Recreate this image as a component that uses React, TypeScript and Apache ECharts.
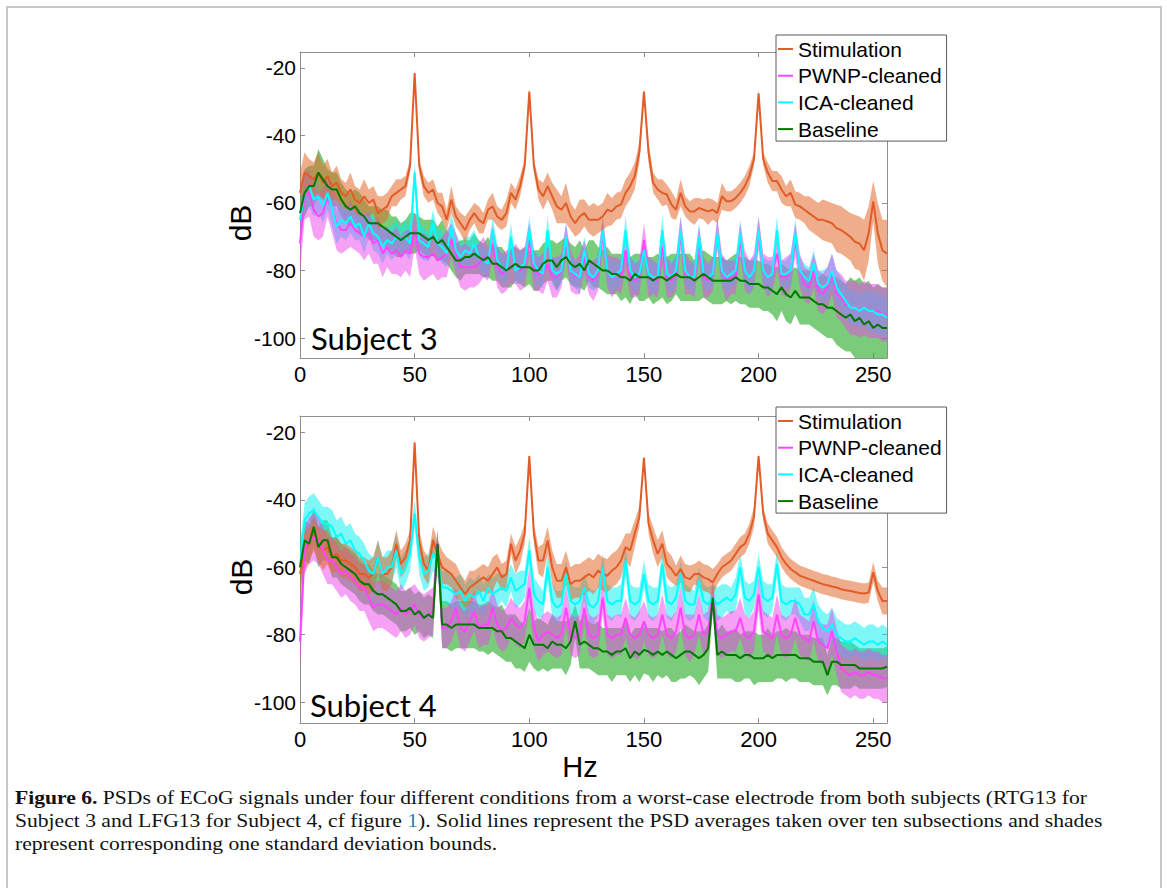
import React, { useEffect, useRef } from 'react';
import * as echarts from 'echarts';

// frequency grid (Hz), 2 Hz bins from 0 to 256
const FREQ_HZ: number[] = Array.from({ length: 129 }, (_, i) => i * 2);
const X_TICKS = [0, 50, 100, 150, 200, 250];
const Y_TICKS = [-100, -80, -60, -40, -20];
const NAMES = ['Stimulation', 'PWNP-cleaned', 'ICA-cleaned', 'Baseline'];

// ---------- Subject 3 ----------
const S3_STIM = [
  -57, -51, -52, -53, -51, -54, -52, -55, -54, -57,
  -58, -56, -59, -60, -58, -60, -59, -63, -62, -61,
  -58, -57, -56, -55, -49, -21.5, -49, -55, -57, -56,
  -60, -61, -65, -59, -64, -66, -68, -65, -63, -65,
  -66, -62, -61, -64, -65, -63, -57, -59, -55, -49,
  -27, -49, -56, -58, -55, -58, -61, -62, -60, -64,
  -66, -64, -63, -65, -65, -65, -64, -62, -62.5, -61,
  -60.5, -57, -55, -52, -45, -27, -45, -54, -56, -57,
  -57.5, -60.5, -62, -57, -61, -62.5, -62.5, -61.5, -62, -62.5,
  -62, -63, -58, -59.5, -59.5, -58.5, -57, -55, -52, -47,
  -27.5, -47, -51, -53.5, -53.5, -56, -58, -57, -60.5, -61,
  -62, -63, -64, -65, -65, -65.5, -66, -67.5, -68, -69,
  -70, -71.5, -72, -74, -69, -59.5, -69, -74, -75,
];
const S3_STIM_SD = [
  6, 6, 5, 5, 6, 5, 5, 4, 5, 4,
  4, 5, 4, 4, 5, 4, 4, 5, 4, 4,
  3, 4, 3, 3, 2, 1, 2, 3, 3, 3,
  3, 4, 3, 4, 3, 3, 4, 3, 3, 4,
  3, 3, 4, 3, 3, 4, 3, 3, 3, 2,
  1, 2, 3, 4, 4, 4, 5, 4, 6, 4,
  4, 5, 4, 4, 5, 4, 4, 5, 4, 4,
  4, 4, 4, 4, 3, 1, 3, 3, 3, 4,
  3, 4, 3, 4, 3, 3, 4, 3, 3, 4,
  3, 3, 4, 3, 3, 3, 3, 3, 3, 2,
  1, 2, 3, 3, 3, 4, 3, 4, 4, 4,
  4, 5, 5, 5, 6, 6, 6, 7, 7, 7,
  7, 8, 8, 9, 8, 6, 9, 9, 10,
];
const S3_PWNP = [
  -72, -58, -57, -62, -64, -63, -58, -62, -66, -68,
  -68, -66, -68, -69, -70, -69, -72, -71, -75, -73,
  -75, -74, -76, -74, -75, -68, -75, -76, -76, -75,
  -77, -76, -75, -71, -75, -79, -79, -79, -79, -78,
  -76, -78, -72, -79, -81, -80, -79, -78, -80, -79,
  -71, -80, -81, -81, -78, -82, -82, -80, -71, -80,
  -82, -81, -76, -82, -83, -81, -69, -80, -82, -81,
  -82, -74, -82, -83, -82, -71, -82, -82, -83, -73,
  -82, -83, -81, -69, -81, -82, -83, -72, -82, -83,
  -81, -69, -80, -83, -82, -82, -71, -80, -82, -80,
  -69, -80, -82, -81, -75, -82, -82, -80, -71, -80,
  -84, -85, -80, -86, -87, -85, -81, -87, -88, -90,
  -91, -91, -92, -91, -92, -92, -92, -93, -93,
];
const S3_PWNP_SD = [
  9, 7, 7, 8, 7, 7, 6, 7, 8, 7,
  6, 7, 6, 6, 7, 6, 6, 7, 7, 6,
  6, 7, 6, 6, 7, 5, 6, 7, 6, 6,
  6, 6, 7, 5, 6, 6, 7, 6, 6, 6,
  6, 5, 5, 6, 6, 6, 5, 6, 6, 6,
  5, 6, 5, 6, 5, 6, 6, 5, 5, 6,
  5, 6, 5, 5, 6, 5, 5, 5, 6, 5,
  5, 5, 6, 5, 5, 5, 6, 5, 5, 5,
  6, 5, 5, 5, 6, 5, 5, 5, 6, 5,
  5, 5, 5, 6, 5, 5, 5, 6, 5, 5,
  5, 5, 6, 5, 5, 5, 6, 5, 5, 5,
  5, 5, 5, 6, 6, 6, 6, 7, 7, 7,
  8, 8, 8, 8, 8, 8, 8, 8, 8,
];
const S3_ICA = [
  -65, -57, -55, -59, -58, -61, -57, -62, -67, -65,
  -66, -64, -67, -66, -70, -66, -69, -70, -73, -71,
  -72, -70, -71, -70, -72, -51, -71, -72, -73, -66,
  -72, -73, -75, -67, -74, -76, -74, -75, -72, -76,
  -77, -78, -68, -77, -79, -80, -70, -80, -79, -78,
  -68, -78, -80, -81, -68, -80, -81, -80, -70, -80,
  -81, -82, -74, -81, -82, -80, -68, -80, -82, -81,
  -80, -68, -80, -82, -81, -74, -81, -82, -82, -68,
  -81, -82, -80, -68, -80, -82, -82, -70, -81, -82,
  -81, -69, -80, -82, -81, -80, -69, -80, -82, -80,
  -68, -80, -82, -81, -68, -81, -81, -80, -69, -80,
  -82, -83, -78, -84, -85, -84, -80, -85, -87, -89,
  -91, -91, -92, -91, -92, -92, -93, -93, -94,
];
const S3_ICA_SD = [
  7, 6, 6, 5, 5, 5, 5, 5, 5, 5,
  5, 5, 4, 5, 5, 4, 5, 5, 5, 4,
  5, 5, 4, 5, 5, 3, 5, 5, 4, 4,
  4, 5, 4, 4, 5, 4, 4, 5, 4, 4,
  4, 4, 4, 5, 4, 4, 4, 4, 5, 4,
  4, 4, 5, 4, 4, 4, 5, 4, 4, 4,
  4, 5, 4, 4, 4, 5, 4, 4, 5, 4,
  4, 4, 4, 5, 4, 4, 4, 5, 4, 4,
  4, 5, 4, 4, 4, 4, 5, 4, 4, 4,
  4, 4, 4, 5, 4, 4, 4, 4, 5, 4,
  4, 4, 5, 4, 4, 4, 4, 5, 4, 4,
  4, 4, 4, 4, 5, 5, 5, 5, 5, 5,
  5, 5, 5, 5, 6, 6, 6, 6, 6,
];
const S3_BASE = [
  -63, -57, -55, -55, -51, -53, -55, -56, -56, -59,
  -61, -62, -61, -63, -64, -66, -66, -66, -67, -68,
  -69, -70, -71, -70, -69, -69, -69, -70, -71, -70,
  -72, -71, -73, -75, -77, -77, -76, -76, -75, -76,
  -77, -76, -78, -78, -79, -80, -79, -78, -79, -79,
  -79, -80, -80, -78, -77, -77, -79, -77, -76, -78,
  -79, -78, -80, -77, -78, -79, -80, -80, -81, -81,
  -82, -82, -83, -81, -82, -82, -82, -83, -82, -82,
  -83, -82, -81, -82, -82, -82, -83, -82, -81, -82,
  -83, -83, -83, -83, -83, -82, -83, -83, -84, -84,
  -84, -85, -85, -86, -87, -85, -87, -88, -86, -88,
  -88, -88, -89, -90, -90, -91, -91, -92, -93, -94,
  -93, -95, -94, -96, -95, -97, -96, -97, -97,
];
const S3_BASE_SD = [
  7, 7, 6, 6, 7, 6, 5, 5, 5, 5,
  5, 5, 5, 6, 5, 5, 5, 5, 5, 6,
  5, 6, 5, 5, 6, 6, 5, 5, 6, 5,
  5, 6, 5, 5, 5, 6, 5, 5, 6, 5,
  5, 6, 5, 5, 6, 5, 6, 5, 5, 6,
  5, 6, 6, 6, 6, 6, 7, 6, 6, 6,
  6, 7, 6, 6, 7, 6, 6, 7, 6, 6,
  7, 6, 7, 6, 7, 7, 6, 7, 7, 6,
  7, 7, 6, 7, 7, 7, 6, 7, 7, 7,
  7, 7, 7, 6, 7, 7, 7, 7, 7, 7,
  7, 7, 7, 7, 8, 7, 8, 8, 7, 8,
  8, 8, 8, 8, 9, 9, 9, 10, 10, 10,
  11, 12, 12, 12, 12, 12, 12, 12, 12,
];

// ---------- Subject 4 ----------
const S4_STIM = [
  -62, -55, -53, -50, -53, -55, -54, -57, -56, -58,
  -58, -59, -60, -62, -62, -63, -62, -57, -62, -62,
  -60, -53, -59, -57, -52, -23, -52, -59, -61, -52,
  -56, -60, -61, -62, -64, -66, -68, -66, -65, -64,
  -63, -64, -62, -60, -63, -62, -53, -58, -55, -50,
  -27, -50, -58, -58, -52, -60, -64, -64, -60, -65,
  -64, -64, -63, -62, -63, -61, -62, -62.5, -61, -60,
  -58, -54, -55, -50, -45, -27.5, -47, -52, -56, -53,
  -59, -60.5, -62.5, -60.5, -63, -63.5, -62, -62, -63, -63.5,
  -64.5, -62, -60, -59, -58, -56, -54, -53, -50, -45,
  -27, -44, -50, -52, -54, -57, -59, -60.5, -61.5, -62.5,
  -63, -63.5, -64, -64.5, -65, -65.3, -65.7, -66, -66.5, -66.8,
  -67, -67.3, -67.6, -67.8, -67.5, -61.5, -67, -70, -70,
];
const S4_STIM_SD = [
  6, 6, 5, 5, 5, 6, 5, 5, 5, 5,
  5, 5, 5, 5, 5, 5, 5, 5, 5, 5,
  5, 4, 4, 4, 3, 1, 3, 4, 4, 4,
  4, 5, 4, 4, 5, 4, 4, 5, 4, 4,
  4, 4, 5, 4, 4, 4, 3, 4, 4, 3,
  1, 3, 4, 5, 4, 5, 5, 5, 5, 5,
  5, 5, 5, 5, 5, 5, 5, 5, 5, 5,
  5, 4, 5, 4, 3, 1, 3, 4, 4, 4,
  4, 4, 3, 4, 4, 4, 3, 4, 4, 4,
  4, 3, 3, 3, 3, 3, 3, 3, 3, 3,
  1, 2, 3, 3, 3, 3, 3, 3, 3, 3,
  3, 3, 3, 3, 3, 3, 3, 3, 3, 3,
  3, 3, 3, 3, 3, 3, 3, 4, 4,
];
const S4_PWNP = [
  -82, -55, -52, -51, -52, -55, -58, -58, -60, -62,
  -61, -63, -64, -66, -66, -69, -72, -71, -71, -72,
  -73, -74, -72, -74, -73, -71, -74, -75, -74, -73,
  -53, -78, -78, -76, -72, -78, -79, -76, -73, -78,
  -77, -77, -72, -77, -79, -78, -75, -77, -78, -76,
  -66, -78, -82, -80, -79, -80, -81, -80, -72, -80,
  -81, -80, -72, -80, -81, -80, -69, -80, -81, -80,
  -80, -75, -80, -81, -80, -76, -80, -81, -80, -74,
  -80, -81, -79, -72, -80, -81, -80, -74, -80, -79,
  -69, -80, -81, -80, -79, -79, -75, -80, -81, -79,
  -68, -79, -80, -81, -74, -80, -81, -80, -75, -80,
  -81, -82, -76, -82, -83, -84, -79, -85, -90, -91,
  -92, -91, -92, -92, -91, -92, -92, -93, -93,
];
const S4_PWNP_SD = [
  9, 7, 7, 7, 7, 7, 7, 7, 7, 7,
  7, 7, 7, 7, 7, 7, 7, 7, 7, 7,
  7, 7, 7, 7, 7, 6, 7, 7, 7, 7,
  4, 6, 6, 6, 6, 6, 6, 6, 6, 6,
  6, 6, 6, 6, 6, 6, 6, 6, 6, 6,
  6, 6, 6, 6, 6, 6, 6, 6, 6, 6,
  6, 6, 5, 6, 6, 6, 5, 6, 6, 6,
  6, 6, 6, 6, 7, 6, 6, 6, 6, 6,
  6, 6, 6, 6, 6, 7, 6, 6, 6, 6,
  5, 6, 6, 6, 6, 6, 6, 6, 6, 6,
  5, 6, 6, 6, 6, 6, 6, 6, 6, 6,
  6, 6, 6, 6, 6, 7, 7, 7, 7, 7,
  7, 7, 7, 7, 7, 7, 7, 7, 7,
];
const S4_ICA = [
  -60, -46, -44, -43, -45, -47, -47, -48, -51, -50,
  -53, -52, -55, -56, -58, -61, -62, -57, -62, -60,
  -60, -55, -62, -60, -56, -44, -57, -62, -61, -56,
  -58, -66, -66, -67, -68, -67, -70, -68, -69, -67,
  -70, -66, -68, -67, -66, -67, -63, -67, -66, -65,
  -55, -68, -70, -71, -60, -70, -72, -71, -62, -70,
  -71, -70, -66, -71, -72, -70, -60, -70, -71, -70,
  -70, -58, -70, -71, -70, -62, -70, -71, -70, -59,
  -70, -71, -69, -62, -70, -71, -71, -64, -70, -71,
  -69, -71, -70, -69, -70, -68, -60, -69, -70, -68,
  -60, -69, -70, -69, -59, -70, -71, -70, -70, -71,
  -74, -74, -71, -76, -78, -79, -77, -80, -81, -82,
  -82, -81, -82, -83, -82, -82, -83, -82, -83,
];
const S4_ICA_SD = [
  7, 5, 5, 5, 5, 5, 5, 5, 5, 5,
  5, 5, 5, 5, 5, 5, 5, 5, 5, 5,
  5, 5, 5, 5, 5, 4, 5, 5, 5, 5,
  5, 5, 5, 5, 5, 5, 5, 5, 5, 5,
  5, 4, 5, 5, 4, 5, 4, 5, 5, 4,
  4, 5, 5, 4, 4, 5, 5, 4, 4, 5,
  5, 4, 4, 5, 5, 4, 4, 5, 5, 4,
  5, 4, 5, 5, 4, 4, 5, 5, 4, 4,
  5, 5, 4, 4, 5, 5, 4, 4, 5, 5,
  4, 5, 5, 4, 4, 5, 4, 5, 5, 4,
  4, 5, 5, 4, 4, 5, 5, 4, 4, 5,
  5, 5, 5, 5, 5, 5, 5, 5, 5, 5,
  5, 5, 5, 5, 5, 5, 5, 5, 5,
];
const S4_BASE = [
  -60, -52, -53, -48, -54, -52, -52, -57, -57, -59,
  -60, -61, -62, -64, -65, -65, -67, -68, -68, -69,
  -70, -71, -73, -73, -72, -74, -73, -75, -74, -75,
  -53, -77, -77, -78, -77, -77, -77, -77, -77, -78,
  -78, -78, -78, -79, -79, -81, -81, -82, -83, -84,
  -80, -83, -83, -83, -84, -82, -83, -83, -84, -82,
  -76, -83, -82, -83, -84, -84, -85, -85, -86, -85,
  -85, -84, -87, -85, -86, -84.5, -85, -86, -85, -86,
  -85, -86, -87, -86, -85, -85, -86, -87, -86, -84,
  -69, -86, -85, -86, -86, -86, -87, -86, -86, -87,
  -87, -87, -86, -87, -86, -86, -86, -86, -86, -87,
  -87, -87, -88, -88, -88, -92, -88, -88, -89, -89,
  -89, -89, -90, -90, -90, -90, -90, -90, -89.5,
];
const S4_BASE_SD = [
  7, 6, 6, 6, 6, 6, 6, 6, 6, 6,
  6, 6, 6, 6, 6, 6, 6, 6, 6, 6,
  6, 6, 6, 6, 6, 6, 6, 6, 6, 6,
  4, 7, 7, 7, 7, 7, 7, 7, 7, 7,
  7, 8, 7, 7, 8, 7, 7, 8, 7, 7,
  8, 7, 8, 7, 7, 8, 7, 7, 8, 7,
  5, 7, 8, 7, 7, 8, 7, 7, 8, 7,
  7, 8, 7, 7, 8, 7, 7, 8, 7, 7,
  7, 8, 7, 7, 8, 7, 7, 8, 7, 7,
  4, 7, 8, 7, 7, 8, 7, 7, 7, 8,
  7, 7, 8, 7, 7, 7, 8, 7, 7, 7,
  7, 7, 7, 7, 7, 6, 7, 7, 7, 7,
  7, 6, 6, 6, 6, 6, 6, 6, 6,
];

const LINE_COLORS = ['#e25c28', '#ff44ff', '#00ffff', '#007800'];
const BAND_COLORS = ['#e4692e', '#ee44ee', '#00f0f0', '#22aa22'];
const BAND_OPACITY = [0.55, 0.5, 0.5, 0.6];
// fills are painted baseline first, then ICA, PWNP and stimulation on top
const BAND_ORDER = [3, 2, 1, 0];

const AXIS_GRAY = '#8f8f8f';
const Y_RANGE = [[-105.9, -15.3], [-106.2, -15.1]];

function mkX(grid: number, pos: string, labels: boolean) {
  return {
    type: 'value', gridIndex: grid, position: pos, min: 0, max: 256,
    axisLine: { show: true, onZero: false, lineStyle: { color: AXIS_GRAY, width: 1 } },
    axisTick: { show: true, inside: true, length: 5, customValues: X_TICKS, lineStyle: { color: AXIS_GRAY } },
    axisLabel: { show: labels, customValues: X_TICKS, fontSize: 22, color: '#000', fontFamily: 'Liberation Sans', margin: 5 },
    splitLine: { show: false },
  };
}
function mkY(grid: number, pos: string, labels: boolean) {
  const [min, max] = Y_RANGE[grid];
  return {
    type: 'value', gridIndex: grid, position: pos, min, max,
    axisLine: { show: true, onZero: false, lineStyle: { color: AXIS_GRAY, width: 1 } },
    axisTick: { show: true, inside: true, length: 5, customValues: Y_TICKS, lineStyle: { color: AXIS_GRAY } },
    axisLabel: { show: labels, customValues: Y_TICKS, fontSize: 21, color: '#000', fontFamily: 'Liberation Sans', margin: 4 },
    splitLine: { show: false },
  };
}

// shaded band (mean ± sd) drawn as one polygon through the axis scales
function bandSeries(axis: number, grid: number, mean: number[], sd: number[], k: number, tag: string) {
  const [ymin, ymax] = Y_RANGE[grid];
  const clamp = (v: number) => Math.min(ymax, Math.max(ymin, v));
  const data = mean.map((m, i) => [FREQ_HZ[i], m - sd[i], m + sd[i]]);
  return {
    type: 'custom', name: tag + '-band-' + k, coordinateSystem: 'cartesian2d',
    xAxisIndex: axis, yAxisIndex: axis, silent: true, z: 1,
    encode: { x: 0, y: [1, 2] },
    data,
    renderItem: (params: any, api: any) => {
      if (params.dataIndex !== 0) return null;
      const pts: number[][] = [];
      for (let i = 0; i < data.length; i++) pts.push(api.coord([data[i][0], clamp(data[i][1])]));
      for (let i = data.length - 1; i >= 0; i--) pts.push(api.coord([data[i][0], clamp(data[i][2])]));
      return {
        type: 'polygon',
        shape: { points: pts },
        style: { fill: BAND_COLORS[k], opacity: BAND_OPACITY[k], stroke: 'none' },
      };
    },
  };
}

function panelSeries(axis: number, grid: number, means: number[][], sds: number[][], tag: string) {
  const bands: any[] = BAND_ORDER.map((k) => bandSeries(axis, grid, means[k], sds[k], k, tag));
  const lines: any[] = means.map((mean, k) => ({
    type: 'line', name: NAMES[k], xAxisIndex: axis, yAxisIndex: axis,
    data: mean.map((m, i) => [FREQ_HZ[i], m]),
    symbol: 'none', showSymbol: false, z: 3,
    lineStyle: { color: LINE_COLORS[k], width: 2 },
    itemStyle: { color: LINE_COLORS[k] },
    emphasis: { disabled: true },
  }));
  return bands.concat(lines);
}

function mkLegend(top: number) {
  return {
    left: 776, top, orient: 'vertical', data: NAMES,
    backgroundColor: '#fff', borderColor: '#5a5a5a', borderWidth: 1, borderRadius: 0,
    padding: [3, 5, 1, 2], itemGap: 4.7, itemWidth: 15, itemHeight: 2, icon: 'rect',
    textStyle: { fontSize: 21, fontFamily: 'Liberation Sans', color: '#000', lineHeight: 22 },
    selectedMode: false, z: 10,
  };
}

const CAPTION_FONT = { fontSize: 18, fontFamily: 'Liberation Serif', fill: '#111' };
const CAPTION_SCALE = 1.2;

export default function App() {
  const ref = useRef<HTMLDivElement>(null);
  useEffect(() => {
    const chart = echarts.init(ref.current!, null, { renderer: 'svg' });
    const option: any = {
      animation: false,
      backgroundColor: '#ffffff',
      grid: [
        { left: 300, top: 52, width: 587, height: 306, outerBoundsMode: 'none', containLabel: false },
        { left: 300, top: 416, width: 587, height: 307, outerBoundsMode: 'none', containLabel: false },
      ],
      xAxis: [mkX(0, 'bottom', true), mkX(0, 'top', false), mkX(1, 'bottom', true), mkX(1, 'top', false)],
      yAxis: [mkY(0, 'left', true), mkY(0, 'right', false), mkY(1, 'left', true), mkY(1, 'right', false)],
      legend: [mkLegend(35), mkLegend(407)],
      series: [
        ...panelSeries(0, 0, [S3_STIM, S3_PWNP, S3_ICA, S3_BASE], [S3_STIM_SD, S3_PWNP_SD, S3_ICA_SD, S3_BASE_SD], 's3'),
        ...panelSeries(2, 1, [S4_STIM, S4_PWNP, S4_ICA, S4_BASE], [S4_STIM_SD, S4_PWNP_SD, S4_ICA_SD, S4_BASE_SD], 's4'),
      ],
      graphic: [
        {
          type: 'polyline', silent: true,
          shape: { points: [[7, 888], [7, 7], [1161, 7], [1161, 888]] },
          style: { stroke: '#c8c8c8', lineWidth: 2, fill: 'none' },
        },
        {
          type: 'text', x: 240, y: 223, rotation: Math.PI / 2,
          style: { text: 'dB', fontSize: 30, fontFamily: 'Liberation Sans', fill: '#000', align: 'center', verticalAlign: 'middle' },
        },
        {
          type: 'text', x: 241, y: 577, rotation: Math.PI / 2,
          style: { text: 'dB', fontSize: 30, fontFamily: 'Liberation Sans', fill: '#000', align: 'center', verticalAlign: 'middle' },
        },
        {
          type: 'text', x: 580, y: 767,
          style: { text: 'Hz', fontSize: 29, fontFamily: 'Liberation Sans', fill: '#000', align: 'center', verticalAlign: 'middle' },
        },
        {
          type: 'text', x: 311, y: 338, z: 20,
          style: { text: 'Subject 3', fontSize: 31, fontFamily: 'Lato', fill: '#000', align: 'left', verticalAlign: 'middle' },
        },
        {
          type: 'text', x: 310, y: 705, z: 20,
          style: { text: 'Subject 4', fontSize: 31, fontFamily: 'Lato', fill: '#000', align: 'left', verticalAlign: 'middle' },
        },
        {
          type: 'text', x: 15, y: 798, scaleX: CAPTION_SCALE,
          style: {
            ...CAPTION_FONT, align: 'left', verticalAlign: 'middle',
            text: '{b|Figure 6.} PSDs of ECoG signals under four different conditions from a worst-case electrode from both subjects (RTG13 for',
            rich: { b: { fontWeight: 'bold', fontSize: 18, fontFamily: 'Liberation Serif', fill: '#111' } },
          },
        },
        {
          type: 'text', x: 15, y: 821, scaleX: CAPTION_SCALE,
          style: {
            ...CAPTION_FONT, align: 'left', verticalAlign: 'middle',
            text: 'Subject 3 and LFG13 for Subject 4, cf figure {l|1}). Solid lines represent the PSD averages taken over ten subsections and shades',
            rich: { l: { fontSize: 18, fontFamily: 'Liberation Serif', fill: '#2b7bb9' } },
          },
        },
        {
          type: 'text', x: 15, y: 844, scaleX: CAPTION_SCALE,
          style: { ...CAPTION_FONT, align: 'left', verticalAlign: 'middle', text: 'represent corresponding one standard deviation bounds.' },
        },
      ],
    };
    chart.setOption(option);
    return () => chart.dispose();
  }, []);
  return <div ref={ref} style={{ position: 'absolute', left: 0, top: 0, width: 1167, height: 888 }} />;
}
